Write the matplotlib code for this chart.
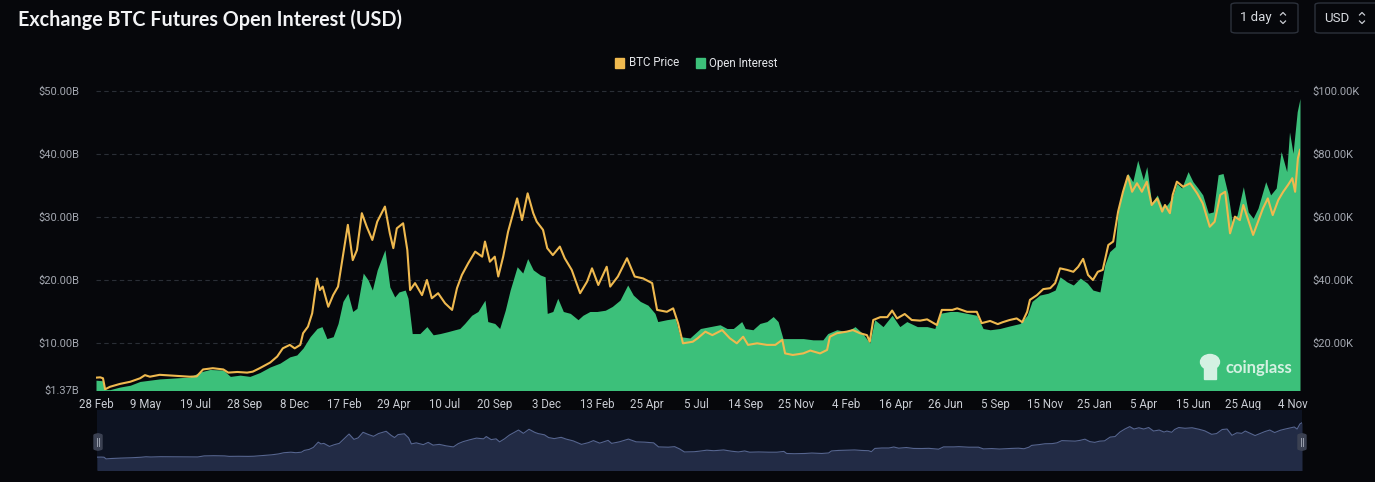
import numpy as np
import pandas as pd
import matplotlib
matplotlib.use('Agg')
import matplotlib.pyplot as plt
from matplotlib.patches import FancyBboxPatch, Rectangle, Ellipse
from matplotlib.lines import Line2D

# ---- data ----
start = pd.Timestamp('2020-02-28')

# BTC price, thousand USD, days since 28 Feb 2020
price_day = [0, 6, 10, 13, 20, 34, 49, 63, 70, 77,
             91, 106, 120, 134, 144, 153, 167, 182, 189, 202,
             216, 224, 234, 249, 259, 267, 277, 284, 292, 296,
             303, 309, 316, 320, 324, 332, 339, 346, 352, 360,
             367, 373, 380, 387, 395, 402, 413, 420, 425, 430,
             439, 445, 449, 456, 466, 473, 480, 489, 499, 509,
             516, 523, 532, 542, 552, 556, 563, 570, 575, 582,
             589, 602, 609, 617, 625, 630, 639, 645, 653, 663,
             670, 680, 692, 702, 709, 718, 730, 735, 746, 759,
             770, 782, 795, 802, 816, 825, 832, 839, 853, 860,
             871, 881, 895, 906, 916, 925, 932, 945, 959, 971,
             981, 985, 996, 1011, 1021, 1035, 1045, 1049, 1059, 1073,
             1082, 1092, 1102, 1106, 1111, 1121, 1131, 1138, 1145, 1156,
             1166, 1178, 1188, 1202, 1209, 1224, 1231, 1245, 1259, 1266,
             1278, 1289, 1296, 1306, 1316, 1324, 1331, 1335, 1345, 1354,
             1364, 1371, 1378, 1388, 1397, 1404, 1411, 1418, 1425, 1432,
             1439, 1447, 1454, 1461, 1468, 1475, 1481, 1488, 1495, 1502,
             1509, 1517, 1524, 1528, 1535, 1539, 1545, 1554, 1564, 1574,
             1582, 1592, 1599, 1607, 1614, 1621, 1628, 1635, 1640, 1647,
             1654, 1661, 1668, 1675, 1682, 1690, 1697, 1704, 1710, 1714,
             1718, 1721]
price_k = [9.0, 9.1, 8.8, 5.3, 6.1, 7.0, 7.7, 8.8, 9.8, 9.3,
           9.9, 9.7, 9.5, 9.3, 9.4, 11.6, 12.0, 11.6, 10.6, 10.8,
           10.6, 10.9, 12.0, 13.8, 15.7, 18.3, 19.4, 18.3, 19.4, 23.1,
           25.2, 29.4, 40.5, 36.8, 37.9, 31.5, 35.2, 37.9, 46.3, 57.5,
           46.3, 49.5, 61.2, 56.9, 52.7, 58.5, 63.3, 54.8, 50.1, 56.4,
           58.0, 49.5, 36.8, 39.0, 35.2, 40.0, 34.2, 35.8, 32.6, 30.5,
           37.4, 41.6, 45.3, 49.0, 47.4, 52.2, 45.8, 47.4, 41.1, 47.4,
           55.3, 65.9, 59.0, 67.5, 61.2, 58.5, 55.9, 50.1, 47.9, 50.6,
           46.9, 43.2, 35.8, 39.5, 43.7, 38.4, 44.2, 37.9, 41.1, 46.9,
           41.1, 40.5, 39.0, 30.5, 29.9, 31.0, 26.3, 19.9, 20.4, 21.5,
           23.6, 22.5, 24.1, 21.5, 19.9, 22.0, 19.4, 19.9, 19.4, 19.4,
           21.0, 16.7, 16.2, 16.7, 17.6, 16.7, 17.8, 22.0, 23.1, 23.6,
           24.1, 23.1, 22.5, 20.4, 27.3, 28.2, 28.2, 30.3, 27.8, 29.2,
           27.3, 27.1, 27.5, 25.7, 30.5, 30.5, 31.0, 29.9, 29.9, 26.3,
           27.0, 26.0, 26.6, 27.3, 27.8, 26.6, 29.9, 33.7, 35.2, 37.1,
           37.4, 39.0, 43.7, 43.2, 42.6, 44.2, 46.7, 41.6, 40.0, 42.6,
           43.2, 51.1, 52.2, 61.7, 68.0, 73.1, 68.0, 70.7, 68.0, 71.2,
           63.8, 65.9, 61.7, 63.8, 61.2, 67.0, 71.2, 69.6, 70.7, 67.5,
           64.3, 56.9, 58.5, 67.0, 68.0, 54.8, 60.1, 59.0, 63.8, 59.0,
           54.3, 58.5, 62.7, 65.9, 60.6, 65.4, 68.0, 70.2, 72.3, 68.0,
           78.6, 81.3]

# open interest, billion USD
oi_day = [0, 10, 13, 20, 34, 49, 63, 77, 91, 106,
          120, 134, 149, 163, 182, 192, 206, 220, 234, 249,
          263, 277, 287, 296, 306, 316, 323, 330, 339, 346,
          353, 360, 367, 373, 382, 389, 395, 402, 413, 420,
          427, 433, 442, 446, 452, 463, 473, 482, 492, 503,
          513, 520, 527, 537, 546, 556, 560, 570, 577, 585,
          592, 602, 610, 617, 625, 635, 642, 645, 653, 660,
          668, 678, 689, 696, 706, 716, 728, 738, 749, 760,
          768, 778, 789, 799, 803, 816, 828, 835, 849, 859,
          864, 878, 892, 902, 911, 923, 928, 939, 949, 959,
          968, 975, 982, 996, 1011, 1025, 1039, 1046, 1059, 1073,
          1085, 1096, 1106, 1113, 1125, 1138, 1149, 1159, 1174, 1188,
          1199, 1206, 1221, 1231, 1245, 1259, 1268, 1278, 1292, 1306,
          1321, 1331, 1338, 1349, 1361, 1371, 1378, 1388, 1397, 1407,
          1417, 1425, 1435, 1442, 1449, 1457, 1461, 1468, 1475, 1482,
          1489, 1497, 1502, 1509, 1517, 1524, 1531, 1538, 1545, 1552,
          1561, 1568, 1575, 1582, 1590, 1597, 1604, 1611, 1618, 1624,
          1631, 1640, 1647, 1654, 1661, 1672, 1679, 1687, 1694, 1702,
          1706, 1711, 1717, 1721]
oi_b = [4.1, 4.0, 2.6, 2.6, 3.0, 3.3, 3.9, 4.1, 4.3, 4.4,
        4.5, 4.6, 5.4, 5.8, 5.7, 4.7, 4.9, 4.7, 5.3, 6.2,
        6.8, 7.8, 8.1, 9.2, 11.0, 12.3, 12.6, 10.7, 11.0, 13.1,
        16.6, 17.9, 15.0, 15.5, 21.1, 20.0, 18.4, 21.6, 24.8, 18.9,
        17.3, 18.1, 18.4, 17.1, 11.5, 11.5, 12.6, 11.3, 11.5, 11.8,
        12.1, 12.3, 13.1, 14.4, 15.0, 16.8, 13.4, 13.1, 12.3, 15.2,
        18.4, 22.1, 21.1, 23.4, 21.6, 20.8, 20.5, 14.7, 15.0, 17.1,
        15.0, 14.7, 13.7, 14.4, 15.0, 15.0, 15.2, 15.8, 16.8, 19.2,
        17.6, 16.6, 16.0, 14.7, 13.4, 13.7, 13.9, 11.0, 10.8, 11.8,
        12.3, 12.6, 12.9, 12.3, 12.3, 13.4, 12.3, 12.1, 13.1, 13.4,
        14.2, 13.4, 10.7, 10.7, 10.7, 10.5, 10.5, 11.5, 12.1, 11.8,
        12.6, 11.5, 10.0, 13.7, 12.6, 14.4, 12.6, 13.4, 12.6, 12.6,
        12.3, 14.7, 15.0, 15.0, 14.7, 14.4, 12.3, 12.1, 12.3, 12.7,
        13.1, 14.4, 16.6, 17.6, 17.9, 18.4, 20.5, 19.7, 19.2, 20.3,
        19.5, 18.4, 18.1, 22.4, 24.5, 25.3, 30.8, 34.6, 36.9, 35.6,
        39.0, 35.9, 38.0, 32.2, 33.5, 31.6, 31.9, 33.0, 35.3, 34.6,
        37.2, 35.6, 34.6, 33.5, 30.6, 30.8, 36.7, 36.9, 33.7, 29.3,
        30.3, 34.8, 30.8, 29.8, 31.4, 35.6, 33.5, 34.6, 40.4, 37.2,
        43.5, 40.1, 46.7, 48.8]

tick_dates = ['2020-02-28', '2020-05-09', '2020-07-19', '2020-09-28', '2020-12-08',
              '2021-02-17', '2021-04-29', '2021-07-10', '2021-09-20', '2021-12-03',
              '2022-02-13', '2022-04-25', '2022-07-05', '2022-09-14', '2022-11-25',
              '2023-02-04', '2023-04-16', '2023-06-26', '2023-09-05', '2023-11-15',
              '2024-01-25', '2024-04-05', '2024-06-15', '2024-08-25', '2024-11-04']
tick_labels = ['28 Feb', '9 May', '19 Jul', '28 Sep', '8 Dec', '17 Feb', '29 Apr',
               '10 Jul', '20 Sep', '3 Dec', '13 Feb', '25 Apr', '5 Jul', '14 Sep',
               '25 Nov', '4 Feb', '16 Apr', '26 Jun', '5 Sep', '15 Nov', '25 Jan',
               '5 Apr', '15 Jun', '25 Aug', '4 Nov']
oi_ticks = [10, 20, 30, 40, 50]
price_ticks = [20, 40, 60, 80, 100]
oi_min_label = 1.37

price_dates = start + pd.to_timedelta(price_day, unit='D')
oi_dates = start + pd.to_timedelta(oi_day, unit='D')
end = start + pd.Timedelta(days=max(price_day))

BG = '#06070b'
GREEN = '#3cc07a'
ORANGE = '#efb94f'
GRID = '#2a2e36'
TXT = '#a3a7b0'

W, H = 1375, 482
fig = plt.figure(figsize=(W / 100, H / 100), dpi=100, facecolor=BG)


def fx(x):
    return x / W


def fy(y):
    return 1 - y / H


# ---- main chart ----
ax = fig.add_axes([fx(96), fy(390), fx(1204), 300 / H], facecolor=BG)
ax.fill_between(oi_dates, 0, oi_b, color=GREEN, lw=0, zorder=2)
ax.set_xlim(start, end)
ax.set_ylim(2.54, 50.15)
ax.set_yticks([2.54] + oi_ticks)
ax.set_yticklabels([f'${oi_min_label:.2f}B'] + [f'${v:.2f}B' for v in oi_ticks])
ax.grid(axis='y', color=GRID, ls=(0, (4, 3)), lw=0.8, zorder=0)
ax.get_ygridlines()[0].set_visible(False)
ax.set_xticks(pd.to_datetime(tick_dates))
ax.set_xticklabels(tick_labels)

ax2 = ax.twinx()
ax2.plot(price_dates, price_k, color=ORANGE, lw=1.5, zorder=3)
ax2.set_ylim(5.08, 100.3)
ax2.set_yticks(price_ticks)
ax2.set_yticklabels([f'${v:.2f}K' for v in price_ticks])

for a in (ax, ax2):
    for s in a.spines.values():
        s.set_visible(False)
    a.tick_params(length=0, labelsize=8, labelcolor=TXT)
    for lab in a.get_yticklabels() + a.get_xticklabels():
        lab.set_family('Roboto')
ax.tick_params(axis='y', pad=12)
ax2.tick_params(axis='y', pad=9)
ax.tick_params(axis='x', pad=6, labelcolor='#c9ccd3', labelsize=8.3)

# watermark
ax.text(0.9935, 0.075, 'coinglass', transform=ax.transAxes, ha='right', va='center',
        fontsize=12, fontweight='bold', color='#d4f1e2', family='Lato', zorder=4)
fig.patches.append(Ellipse((fx(1210), fy(362)), fx(19), 15 / H, transform=fig.transFigure,
                           color='#d4f1e2', zorder=5))
fig.patches.append(Rectangle((fx(1204), fy(379)), fx(12), 12 / H, transform=fig.transFigure,
                             color='#d4f1e2', zorder=5))

# ---- navigator ----
nav = fig.add_axes([fx(97), fy(470), fx(1205), 60 / H], facecolor='#0d1322')
nav.fill_between(price_dates, -20, price_k, color='#222b45', lw=0)
nav.plot(price_dates, price_k, color='#56658f', lw=0.8)
nav.set_xlim(start, end)
nav.set_ylim(-18, 108)
nav.set_xticks([])
nav.set_yticks([])
for s in nav.spines.values():
    s.set_visible(False)

for hx in (98, 1302):
    fig.patches.append(FancyBboxPatch((fx(hx - 4), fy(450)), fx(8), 16 / H,
                                      boxstyle='round,pad=0,rounding_size=0.003',
                                      transform=fig.transFigure, color='#3b4152', zorder=6))
    for dx in (-1.2, 1.2):
        fig.lines.append(Line2D([fx(hx + dx)] * 2, [fy(446), fy(438)], transform=fig.transFigure,
                                color='#9aa0ad', lw=0.7, zorder=7))

# ---- title, buttons, legend ----
fig.text(fx(18), fy(20), 'Exchange BTC Futures Open Interest (USD)', fontsize=14.2,
         fontweight='bold', color='#f2f3f5', family='Lato', va='center', ha='left')


def button(x0, x1, label, chev_x):
    fig.patches.append(FancyBboxPatch((fx(x0), fy(33)), fx(x1 - x0), 30 / H,
                                      boxstyle='round,pad=0,rounding_size=0.004',
                                      transform=fig.transFigure, facecolor=BG,
                                      edgecolor='#2c313b', lw=1.0))
    fig.text(fx(x0 + 9), fy(18), label, fontsize=9.5, color='#d9dce1', family='Roboto',
             va='center', ha='left')
    for ys, sgn in ((15, 1), (21, -1)):
        fig.lines.append(Line2D([fx(chev_x - 2.5), fx(chev_x), fx(chev_x + 2.5)],
                                [fy(ys), fy(ys - 2.5 * sgn), fy(ys)],
                                transform=fig.transFigure, color='#c9ccd3', lw=0.9))


button(1231, 1298, '1 day', 1283)
button(1315, 1390, 'USD', 1362)

for sx, tx, col, lab in ((615, 629, ORANGE, 'BTC Price'), (696, 709, GREEN, 'Open Interest')):
    fig.patches.append(Rectangle((fx(sx), fy(67.5)), fx(9), 9 / H, transform=fig.transFigure,
                                 color=col))
    fig.text(fx(tx), fy(63), lab, fontsize=8.3, color='#e4e6ea', family='Roboto',
             va='center', ha='left')

fig.savefig('out.png', dpi=100, facecolor=BG)
